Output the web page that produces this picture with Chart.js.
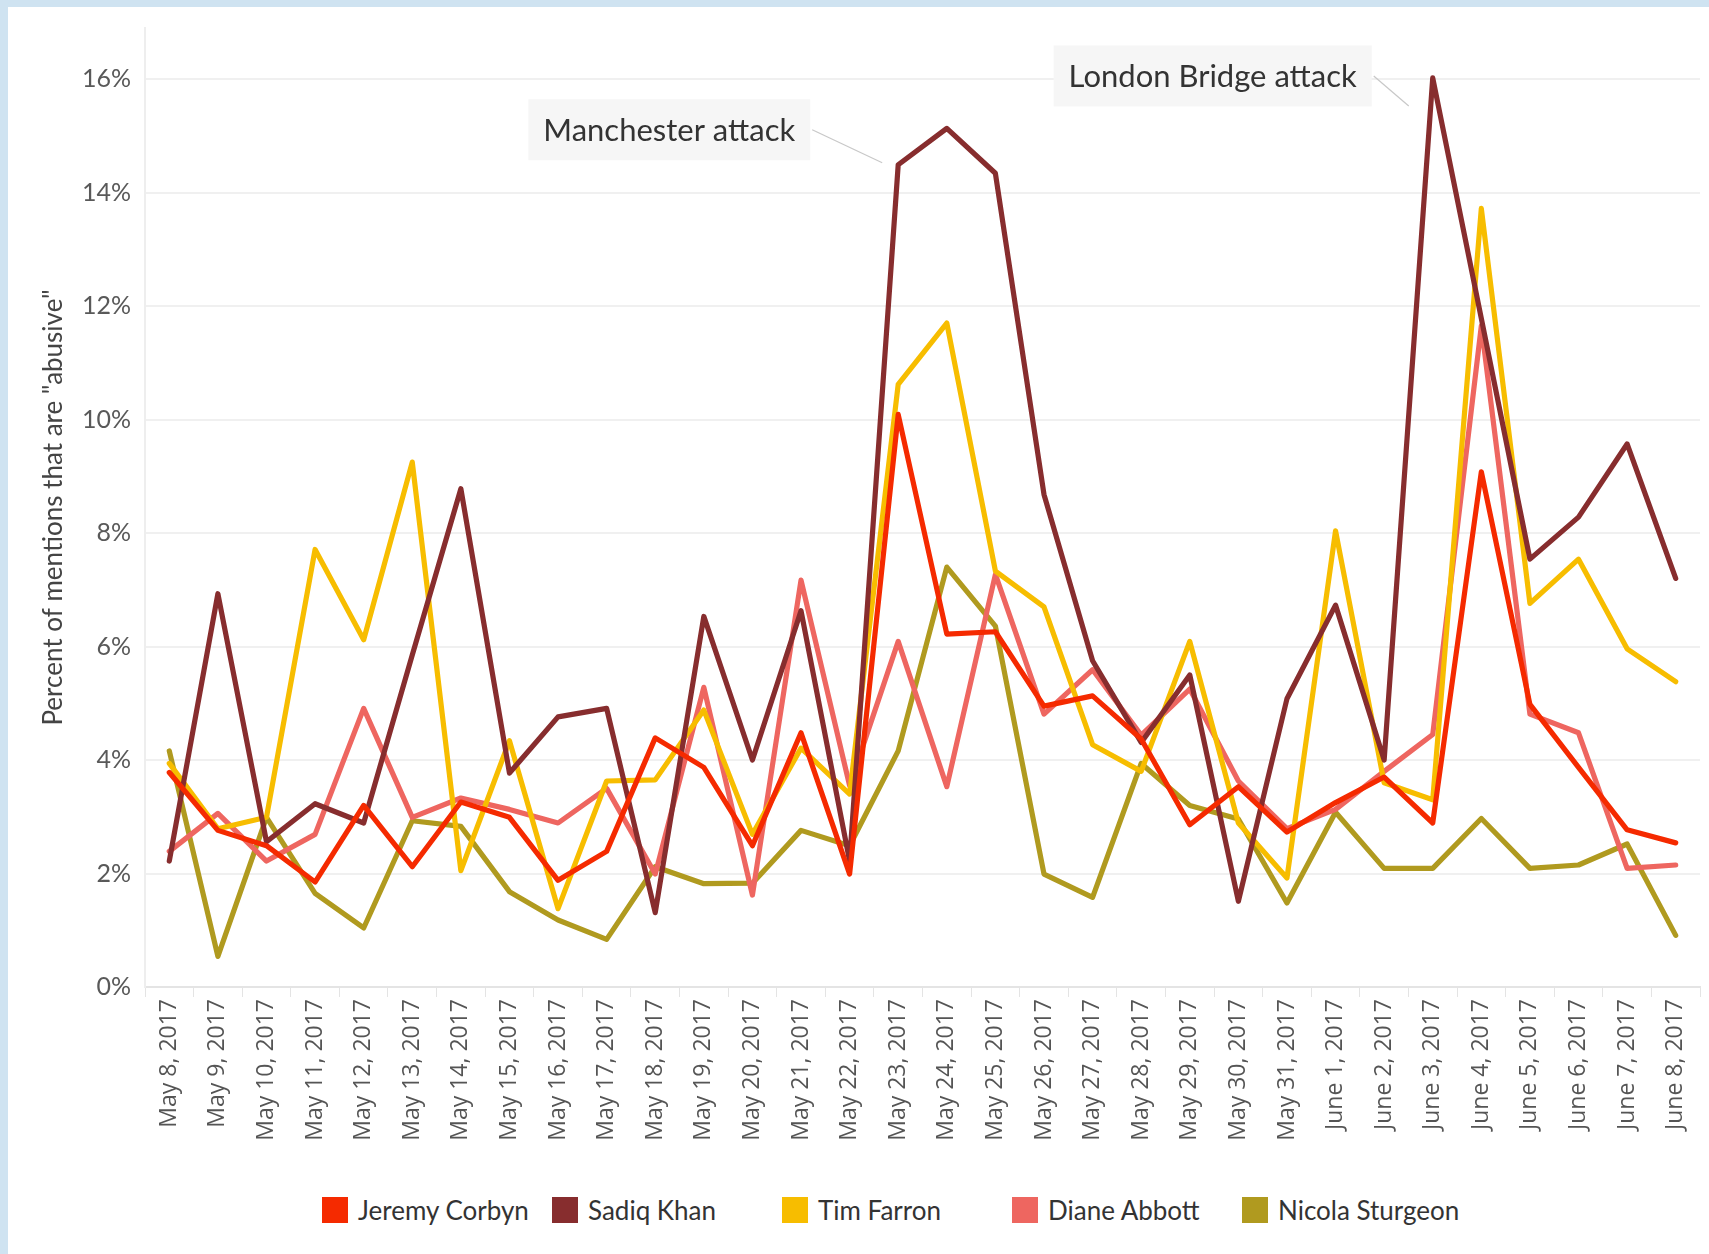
<!DOCTYPE html>
<html>
<head>
<meta charset="utf-8">
<script src="https://cdn.jsdelivr.net/npm/chart.js@4.4.1/dist/chart.umd.min.js"></script>
<style>
  body { margin: 0; background: #fff; width: 1709px; height: 1254px; overflow: hidden; position: relative; font-family: Lato, sans-serif; }
  .edgeTop { position: absolute; left: 0; top: 0; width: 1709px; height: 7px; background: #cfe3f1; }
  .edgeLeft { position: absolute; left: 0; top: 0; width: 8px; height: 1254px; background: #cfe3f1; }
  #wrap { position: absolute; left: 8px; top: 7px; width: 1701px; height: 1180px; }
  #legend { position: absolute; left: 322px; top: 1194px; display: flex; }
  .item { width: 230px; display: flex; align-items: center; font-size: 26px; color: #333; }
  .sw { width: 26px; height: 26px; margin-right: 10px; }
</style>
</head>
<body>
<div class="edgeTop"></div>
<div class="edgeLeft"></div>
<div id="wrap"><canvas id="abuseChart" width="1701" height="1180"></canvas></div>
<div id="legend"></div>
<script>
const dates = ['May 8, 2017', 'May 9, 2017', 'May 10, 2017', 'May 11, 2017', 'May 12, 2017', 'May 13, 2017',
  'May 14, 2017', 'May 15, 2017', 'May 16, 2017', 'May 17, 2017', 'May 18, 2017', 'May 19, 2017',
  'May 20, 2017', 'May 21, 2017', 'May 22, 2017', 'May 23, 2017', 'May 24, 2017', 'May 25, 2017',
  'May 26, 2017', 'May 27, 2017', 'May 28, 2017', 'May 29, 2017', 'May 30, 2017', 'May 31, 2017',
  'June 1, 2017', 'June 2, 2017', 'June 3, 2017', 'June 4, 2017', 'June 5, 2017', 'June 6, 2017',
  'June 7, 2017', 'June 8, 2017'];

const names = ['Jeremy Corbyn', 'Sadiq Khan', 'Tim Farron', 'Diane Abbott', 'Nicola Sturgeon'];
const colors = ['#f52a00', '#872d2e', '#f7bd00', '#ee6660', '#b09a1f'];

const corbyn = [3.78, 2.76, 2.49, 1.85, 3.20, 2.12, 3.26, 2.99, 1.88, 2.39, 4.39, 3.87, 2.49, 4.48, 1.99, 10.09,
  6.22, 6.26, 4.95, 5.13, 4.37, 2.86, 3.53, 2.73, 3.25, 3.70, 2.89, 9.08, 4.98, 3.87, 2.77, 2.54];
const khan = [2.22, 6.93, 2.56, 3.23, 2.89, 5.85, 8.78, 3.77, 4.76, 4.91, 1.31, 6.53, 4.00, 6.63, 2.22, 14.49,
  15.13, 14.34, 8.68, 5.75, 4.31, 5.50, 1.51, 5.08, 6.73, 4.00, 16.02, 11.78, 7.54, 8.28, 9.57, 7.20];
const farron = [3.94, 2.79, 2.99, 7.71, 6.12, 9.25, 2.05, 4.34, 1.38, 3.63, 3.65, 4.88, 2.69, 4.21, 3.40, 10.62,
  11.70, 7.33, 6.70, 4.27, 3.80, 6.09, 2.89, 1.92, 8.04, 3.60, 3.30, 13.72, 6.76, 7.54, 5.96, 5.38];
const abbott = [2.39, 3.06, 2.22, 2.69, 4.91, 2.99, 3.33, 3.13, 2.89, 3.50, 1.99, 5.28, 1.62, 7.17, 3.55, 6.09,
  3.53, 7.27, 4.81, 5.59, 4.44, 5.25, 3.63, 2.79, 3.13, 3.80, 4.45, 11.65, 4.81, 4.48, 2.09, 2.15];
const sturgeon = [4.16, 0.54, 2.99, 1.65, 1.04, 2.93, 2.83, 1.68, 1.18, 0.84, 2.12, 1.82, 1.83, 2.76, 2.49, 4.16,
  7.40, 6.36, 1.99, 1.58, 3.94, 3.20, 2.96, 1.48, 3.08, 2.09, 2.09, 2.97, 2.09, 2.15, 2.52, 0.91];

// event callouts, tied to a Sadiq Khan point
const notes = [
  { text: 'Manchester attack', ds: 1, idx: 15, gap: 88, dy: -35, tip: [-16, -2] },
  { text: 'London Bridge attack', ds: 1, idx: 26, gap: 61, dy: -2, tip: [-24, 28] }
];

const series = [corbyn, khan, farron, abbott, sturgeon];

const calloutPlugin = {
  id: 'callouts',
  afterDatasetsDraw(chart) {
    const ctx = chart.ctx;
    ctx.save();
    ctx.font = '31px Lato';
    notes.forEach(n => {
      const pt = chart.getDatasetMeta(n.ds).data[n.idx];
      const w = ctx.measureText(n.text).width + 30;
      const h = 61;
      const right = pt.x - n.gap;
      const cy = pt.y + n.dy;
      ctx.fillStyle = '#f6f6f6';
      ctx.fillRect(right - w, cy - h / 2, w, h);
      ctx.fillStyle = '#333';
      ctx.textBaseline = 'middle';
      ctx.fillText(n.text, right - w + 15, cy + 1);
      ctx.strokeStyle = '#c8c8c8';
      ctx.lineWidth = 1.2;
      ctx.beginPath();
      ctx.moveTo(right + 2, cy);
      ctx.lineTo(pt.x + n.tip[0], pt.y + n.tip[1]);
      ctx.stroke();
    });
    ctx.restore();
  }
};

Chart.defaults.font.family = 'Lato';

new Chart(document.getElementById('abuseChart').getContext('2d'), {
  type: 'line',
  data: {
    labels: dates,
    datasets: series.map((d, i) => ({
      label: names[i],
      data: d,
      borderColor: colors[i],
      backgroundColor: colors[i],
      borderWidth: 5.2,
      borderJoinStyle: 'round',
      borderCapStyle: 'round',
      tension: 0,
      pointRadius: 0,
      fill: false
    }))
  },
  options: {
    responsive: false,
    animation: false,
    devicePixelRatio: 1,
    layout: { padding: { left: 30, top: 21, right: 9, bottom: 0 } },
    plugins: {
      legend: { display: false },
      tooltip: { enabled: false }
    },
    scales: {
      x: {
        offset: true,
        afterFit(s) { s.height = 200; },
        grid: { offset: true, drawOnChartArea: false, drawTicks: true, tickLength: 10, color: '#e4e4e4' },
        border: { display: true, color: '#e4e4e4', width: 2 },
        ticks: { autoSkip: false, minRotation: 90, maxRotation: 90, padding: 2, color: '#555',
          font: { family: 'Open Sans', size: 23 } }
      },
      y: {
        min: 0,
        max: 16.9,
        afterFit(s) { s.width = 107; s.paddingTop = 0; s.paddingBottom = 0; },
        title: { display: true, text: 'Percent of mentions that are "abusive"', color: '#444',
          font: { size: 26 }, padding: { top: 0, bottom: 0 } },
        grid: { color: '#f0f0f0', lineWidth: 2, drawTicks: false },
        border: { display: true, color: '#eeeeee', width: 2 },
        ticks: { stepSize: 2, includeBounds: false, padding: 14, color: '#595959',
          font: { size: 25 }, callback: v => v + '%' }
      }
    }
  },
  plugins: [calloutPlugin]
});

const legend = document.getElementById('legend');
names.forEach((n, i) => {
  const item = document.createElement('div');
  item.className = 'item';
  item.innerHTML = '<span class="sw" style="background:' + colors[i] + '"></span>' + n;
  legend.appendChild(item);
});
</script>
</body>
</html>
